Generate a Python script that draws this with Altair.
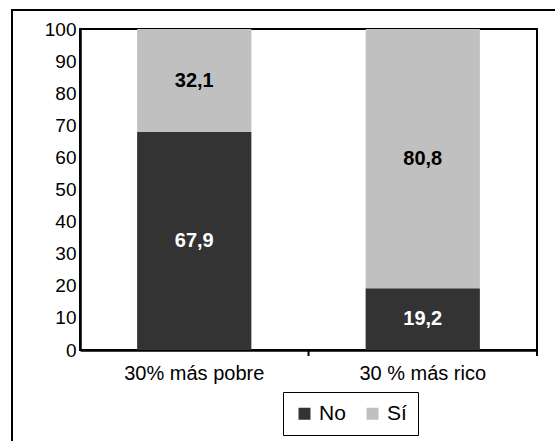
import altair as alt
import pandas as pd

grupos = ["30% más pobre", "30 % más rico"]
respuestas = ["No", "Sí"]
valores_no = [67.9, 19.2]
valores_si = [32.1, 80.8]
colores = ["#333333", "#c0c0c0"]
colores_texto = ["white", "black"]

filas = []
for i, g in enumerate(grupos):
    filas.append({"grupo": g, "respuesta": "No", "valor": valores_no[i], "orden": 0})
    filas.append({"grupo": g, "respuesta": "Sí", "valor": valores_si[i], "orden": 1})
df = pd.DataFrame(filas)

W, H = 457, 321
FONT = "Liberation Sans"
PAD_INNER, PAD_OUTER = 0.5, 0.25
# width of one category step and of one bar, in pixels
STEP = W / (len(grupos) - PAD_INNER + 2 * PAD_OUTER)
BANDA = STEP * (1 - PAD_INNER)

eje_x = alt.Axis(title=None, labelAngle=0, ticks=False,
                 labelFontSize=20, labelFont=FONT, labelColor="black",
                 labelPadding=13, domainColor="black", domainWidth=2.5)
eje_y = alt.Axis(title=None, values=list(range(0, 101, 10)), ticks=False,
                 grid=False, labelOverlap=False,
                 labelFontSize=19, labelFont=FONT, labelColor="black",
                 labelPadding=4, domainColor="black", domainWidth=2.5)
escala_x = alt.Scale(paddingInner=PAD_INNER, paddingOuter=PAD_OUTER)
escala_y = alt.Scale(domain=[0, 100], nice=False)

barras = alt.Chart(df).mark_bar().encode(
    x=alt.X("grupo:N", sort=grupos, scale=escala_x, axis=eje_x),
    y=alt.Y("valor:Q", stack="zero", scale=escala_y, axis=eje_y),
    color=alt.Color("respuesta:N", sort=respuestas,
                    scale=alt.Scale(domain=respuestas, range=colores),
                    legend=alt.Legend(title=None, orient="none", direction="horizontal",
                                      legendX=203, legendY=363, symbolType="square",
                                      symbolSize=144, symbolStrokeWidth=0,
                                      labelFontSize=21, labelFont=FONT, labelColor="black",
                                      strokeColor="black", fillColor="white",
                                      padding=11, columnPadding=16, labelOffset=4)),
    order=alt.Order("orden:Q"),
)

etiquetas = alt.Chart(df).transform_stack(
    stack="valor", groupby=["grupo"], as_=["y0", "y1"],
    sort=[alt.SortField("orden", order="ascending")],
).transform_calculate(
    medio="(datum.y0 + datum.y1) / 2",
    etiqueta="replace(format(datum.valor, '.1f'), '.', ',')",
).mark_text(font=FONT, fontSize=20, fontWeight="bold").encode(
    x=alt.X("grupo:N", sort=grupos, scale=escala_x, axis=eje_x),
    y=alt.Y("medio:Q", scale=escala_y, axis=eje_y),
    text="etiqueta:N",
    color=alt.Color("respuesta:N", sort=respuestas,
                    scale=alt.Scale(domain=respuestas, range=colores_texto),
                    legend=None),
)

# tick marks between categories on the x axis (at the step boundary)
marcas = alt.Chart(pd.DataFrame({"grupo": grupos})).mark_rule(
    color="black", strokeWidth=2, xOffset=(STEP - BANDA) / 2
).encode(
    x=alt.X("grupo:N", sort=grupos, bandPosition=1, scale=escala_x, axis=eje_x),
    y=alt.value(H),
    y2=alt.value(H + 6),
)

# outer frame around the whole figure
marco = alt.Chart(pd.DataFrame({"grupo": grupos[:1]})).mark_rect(
    fill=None, stroke="black", strokeWidth=2
).encode(
    x=alt.value(-68), x2=alt.value(W + 60),
    y=alt.value(-19), y2=alt.value(H + 140),
)

chart = alt.layer(barras, etiquetas, marcas, marco).resolve_scale(
    color="independent"
).properties(
    width=W, height=H,
    autosize=alt.AutoSizeParams(type="none"),
    padding={"left": 80, "top": 29, "right": 18, "bottom": 91},
    view=alt.ViewBackground(stroke="black", strokeWidth=2),
).configure_view(
    stroke="black", strokeWidth=2
).configure(background="white")

chart.save("out.html", embed_options={"renderer": "svg", "actions": False})
